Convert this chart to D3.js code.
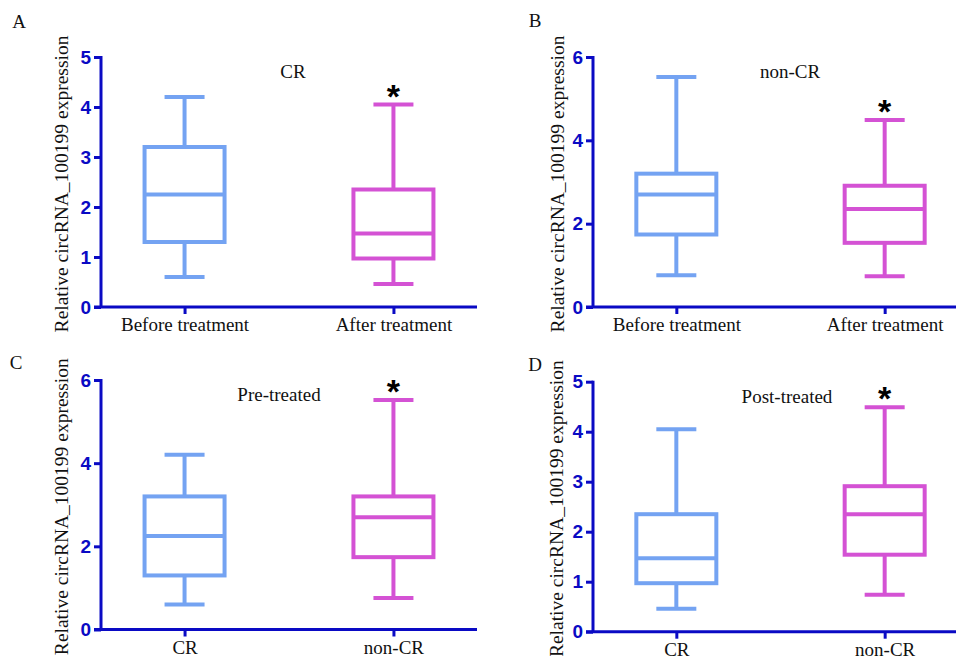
<!DOCTYPE html>
<html>
<head>
<meta charset="utf-8">
<script src="https://cdn.jsdelivr.net/npm/d3@7"></script>
<style>
  body { margin: 0; background: #fff; }
  svg { display: block; }
</style>
</head>
<body>
<svg width="956" height="656"></svg>
<script>
// box stats: [low whisker, q1, median, q3, high whisker]
const crBefore = [0.6, 1.3, 2.25, 3.2, 4.2];
const crAfter = [0.46, 0.97, 1.47, 2.35, 4.05];
const nonCrBefore = [0.76, 1.74, 2.7, 3.2, 5.52];
const nonCrAfter = [0.74, 1.54, 2.35, 2.91, 4.49];

const treatCats = ['Before treatment', 'After treatment'];
const groupCats = ['CR', 'non-CR'];
const yMaxA = 5, yMaxB = 6, yMaxC = 6, yMaxD = 5;
const yLabel = 'Relative circRNA_100199 expression';

const blue = '#74a3f2';
const pink = '#d452d4';
const axisColor = '#0a0ac4';
const serif = 'Liberation Serif, Times New Roman, serif';

const svg = d3.select('svg');

// panels with their own frame
const panels = [
  {letter: 'A', title: 'CR', cats: treatCats, boxes: [crBefore, crAfter], yMax: yMaxA,
   x0: 101, x1: 477, top: 57, bottom: 307, lx: 19, ly: 28, tx: 293, labX: 61},
  {letter: 'B', title: 'non-CR', cats: treatCats, boxes: [nonCrBefore, nonCrAfter], yMax: yMaxB,
   x0: 593, x1: 968, top: 57, bottom: 307, lx: 535, ly: 27, tx: 790, labX: 557},
  {letter: 'C', title: 'Pre-treated', cats: groupCats, boxes: [crBefore, nonCrBefore], yMax: yMaxC,
   x0: 101, x1: 477, top: 380, bottom: 629.5, lx: 16, ly: 369, tx: 279, labX: 61},
  {letter: 'D', title: 'Post-treated', cats: groupCats, boxes: [crAfter, nonCrAfter], yMax: yMaxD,
   x0: 593, x1: 968, top: 381.7, bottom: 631.7, lx: 535, ly: 371, tx: 787, labX: 556}
];

panels.forEach(p => drawPanel(p));

function drawPanel(p) {
  const g = svg.append('g');

  const x = d3.scalePoint()
    .domain(p.cats)
    .range([p.x0, p.x1])
    .padding(0.4);

  const y = d3.scaleLinear()
    .domain([0, p.yMax])
    .range([p.bottom, p.top]);

  // boxes
  p.boxes.forEach((b, i) => {
    const cx = x(p.cats[i]);
    const col = i === 0 ? blue : pink;
    const bw = 40, cw = 20;
    const bg = g.append('g')
      .style('stroke', col)
      .style('stroke-width', 4)
      .style('fill', 'none');
    // whiskers
    bg.append('line')
      .attr('x1', cx).attr('x2', cx)
      .attr('y1', y(b[0])).attr('y2', y(b[1]));
    bg.append('line')
      .attr('x1', cx).attr('x2', cx)
      .attr('y1', y(b[3])).attr('y2', y(b[4]));
    bg.append('line')
      .attr('x1', cx - cw).attr('x2', cx + cw)
      .attr('y1', y(b[0])).attr('y2', y(b[0]));
    bg.append('line')
      .attr('x1', cx - cw).attr('x2', cx + cw)
      .attr('y1', y(b[4])).attr('y2', y(b[4]));
    bg.append('rect')
      .attr('x', cx - bw)
      .attr('y', y(b[3]))
      .attr('width', bw * 2)
      .attr('height', y(b[1]) - y(b[3]));
    bg.append('line')
      .attr('x1', cx - bw).attr('x2', cx + bw)
      .attr('y1', y(b[2])).attr('y2', y(b[2]));

    if (i === 1) {
      g.append('text')
        .attr('x', cx)
        .attr('y', y(b[4]) + 3)
        .attr('text-anchor', 'middle')
        .style('font-family', 'Liberation Sans, Arial, sans-serif')
        .style('font-weight', 'bold')
        .style('font-size', '34px')
        .text('*');
    }
  });

  // y axis
  const ya = g.append('g')
    .attr('transform', `translate(${p.x0},0)`)
    .call(d3.axisLeft(y).ticks(p.yMax === 6 ? 3 : 5).tickSize(7).tickPadding(3).tickSizeOuter(0));
  // x axis
  const xa = g.append('g')
    .attr('transform', `translate(0,${p.bottom})`)
    .call(d3.axisBottom(x).tickSize(7).tickPadding(4).tickSizeOuter(0));

  ya.select('.domain').remove();
  xa.select('.domain').remove();
  g.append('line')
    .attr('x1', p.x0).attr('x2', p.x0)
    .attr('y1', p.top - 1).attr('y2', p.bottom)
    .style('stroke', axisColor).style('stroke-width', 3);
  g.append('line')
    .attr('x1', p.x0 - 7).attr('x2', p.x1)
    .attr('y1', p.bottom).attr('y2', p.bottom)
    .style('stroke', axisColor).style('stroke-width', 3);

  ya.selectAll('.tick line').style('stroke', axisColor).style('stroke-width', 3);
  ya.selectAll('.tick text')
    .style('fill', axisColor)
    .style('font-family', 'Liberation Sans, Arial, sans-serif')
    .style('font-weight', 'bold')
    .style('font-size', '19px');
  xa.selectAll('.tick line').style('stroke', axisColor).style('stroke-width', 3);
  xa.selectAll('.tick text')
    .style('fill', '#111')
    .style('font-family', serif)
    .style('font-size', '19px');

  // y label
  g.append('text')
    .attr('transform', `translate(${p.labX},${(p.top + p.bottom) / 2 + 2}) rotate(-90)`)
    .attr('text-anchor', 'middle')
    .attr('dy', '0.35em')
    .style('font-family', serif)
    .style('font-size', '19.5px')
    .style('fill', '#111')
    .text(yLabel);

  // title
  g.append('text')
    .attr('x', p.tx)
    .attr('y', p.top + 21)
    .attr('text-anchor', 'middle')
    .style('font-family', serif)
    .style('font-size', '19px')
    .style('fill', '#111')
    .text(p.title);

  // panel letter
  g.append('text')
    .attr('x', p.lx)
    .attr('y', p.ly)
    .attr('text-anchor', 'middle')
    .style('font-family', serif)
    .style('font-size', '19px')
    .style('fill', '#111')
    .text(p.letter);
}
</script>
</body>
</html>
